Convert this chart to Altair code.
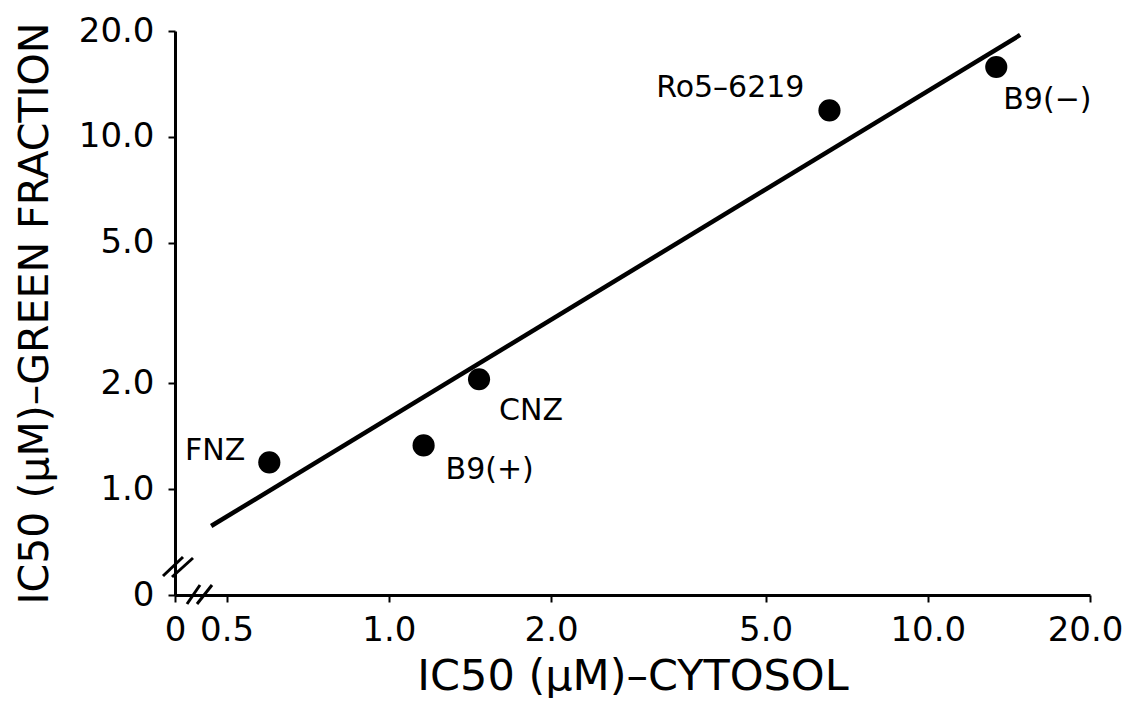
import altair as alt
import pandas as pd

# ---- data ----
names = ["FNZ", "B9(+)", "CNZ", "Ro5–6219", "B9(−)"]
cytosol = [0.60, 1.16, 1.47, 6.57, 13.4]
green = [1.19, 1.33, 2.05, 11.9, 15.8]
fit_x = [0.468, 14.84]
fit_y = [0.785, 19.49]
x_ticks = [0.401, 0.5, 1, 2, 5, 10, 20]
y_ticks = [0.5, 1, 2, 5, 10, 20]

FONT = "DejaVu Sans"

pts = pd.DataFrame({"name": names, "cyt": cytosol, "grn": green})
fit = pd.DataFrame({"cyt": fit_x, "grn": fit_y})

xs = alt.Scale(type="log", domain=[0.401, 20], nice=False)
ys = alt.Scale(type="log", domain=[0.5, 20], nice=False)

xax = alt.Axis(values=x_ticks, labelExpr="datum.value < 0.45 ? '0' : format(datum.value, '.1f')",
               title="IC50 (μM)–CYTOSOL", labelOverlap=False, labelFlush=False,
               labelOffset={"condition": {"test": "datum.value >= 19", "value": -5}, "value": 0},
               labelPadding=11, titlePadding=8, titleFontSize=43)
yax = alt.Axis(values=y_ticks, labelExpr="datum.value < 0.75 ? '0' : format(datum.value, '.1f')",
               title="IC50 (μM)–GREEN FRACTION", labelOverlap=False, labelFlush=False,
               labelPadding=14, titlePadding=22, titleFontSize=41)

points = alt.Chart(pts).mark_circle(size=490, color="black", opacity=1).encode(
    x=alt.X("cyt:Q", scale=xs, axis=xax),
    y=alt.Y("grn:Q", scale=ys, axis=yax),
)

line = alt.Chart(fit).mark_line(color="black", strokeWidth=4.5).encode(
    x=alt.X("cyt:Q", scale=xs),
    y=alt.Y("grn:Q", scale=ys),
)

label_style = [
    ("FNZ", "right", -24, -11),
    ("B9(+)", "left", 22, 25),
    ("CNZ", "left", 20, 32),
    ("Ro5–6219", "right", -25, -22),
    ("B9(−)", "left", 7, 33),
]
labels = []
for nm, al, dx, dy in label_style:
    labels.append(
        alt.Chart(pts).transform_filter(alt.datum.name == nm).mark_text(
            align=al, baseline="middle", dx=dx, dy=dy, font=FONT, fontSize=30, color="black"
        ).encode(x=alt.X("cyt:Q", scale=xs), y=alt.Y("grn:Q", scale=ys), text="name:N")
    )

# axis-break slashes (decoration)
dummy = pd.DataFrame({"k": [0]})
slashes = []
for (a, b, c, d) in [(12, 573, 25, 554), (22, 573, 37, 554), (-12, 545, 8, 526), (-3, 546, 18, 527)]:
    slashes.append(
        alt.Chart(dummy).mark_rule(color="black", strokeWidth=3).encode(
            x=alt.value(a), y=alt.value(b), x2=alt.value(c), y2=alt.value(d)
        )
    )

chart = alt.layer(line, points, *labels, *slashes).properties(
    width=915, height=564,
    autosize=alt.AutoSizeParams(type="none"),
    padding={"left": 167, "top": 23, "right": 34, "bottom": 103},
    background="white",
).configure_view(stroke=None).configure_axis(
    grid=False, domainColor="black", domainWidth=3, tickColor="black", tickWidth=2, tickSize=7,
    labelFont=FONT, labelFontSize=34, labelColor="black",
    titleFont=FONT, titleFontWeight="normal", titleColor="black",
)

chart.save("out.html", embed_options={"renderer": "svg", "actions": False})
